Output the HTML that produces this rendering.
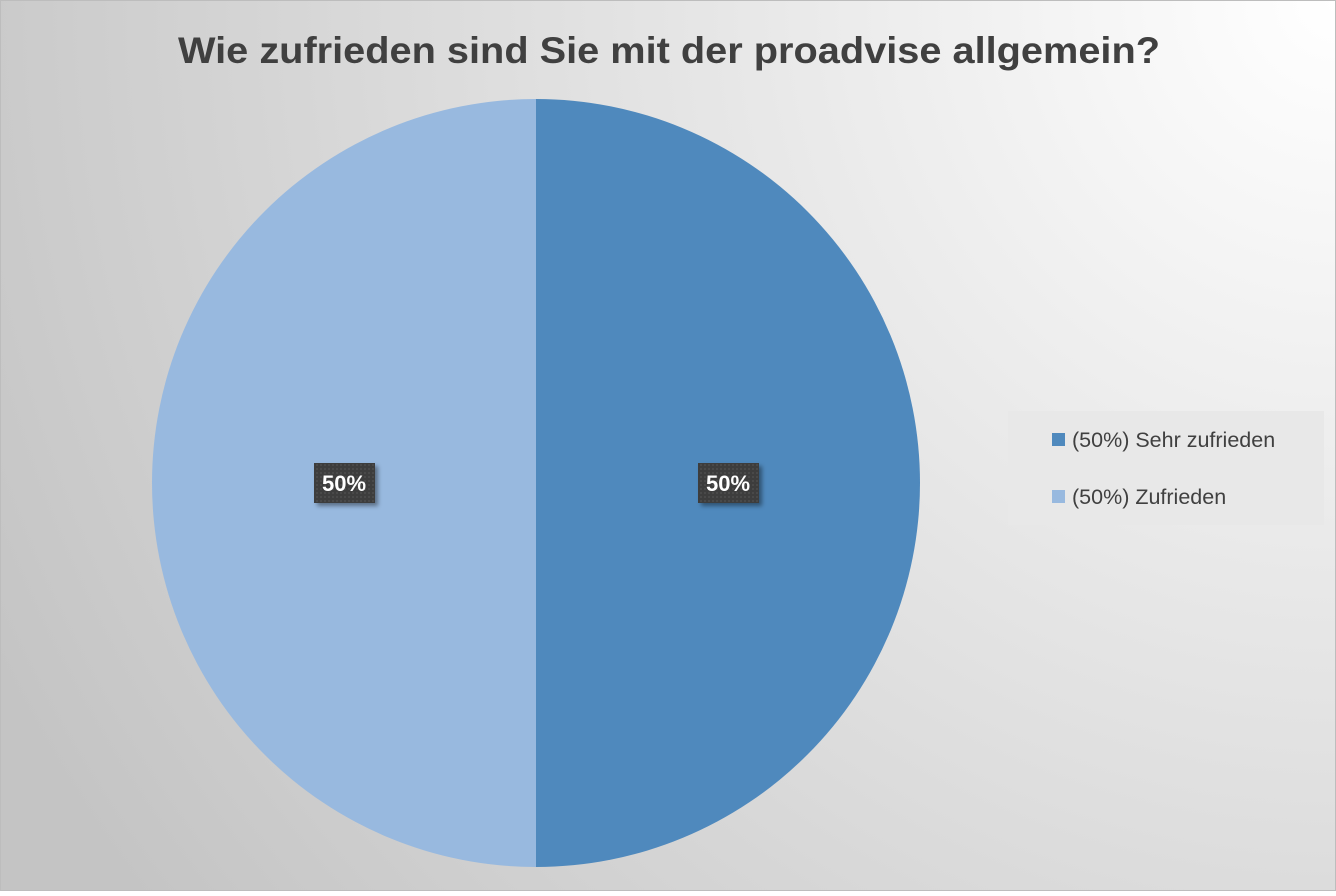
<!DOCTYPE html>
<html><head><meta charset="utf-8"><style>
html,body{margin:0;padding:0;}
body{width:1336px;height:891px;overflow:hidden;font-family:"Liberation Sans",sans-serif;}
</style></head><body>
<svg id="chart" width="1336" height="891" xmlns="http://www.w3.org/2000/svg">
<defs>
<radialGradient id="bg" cx="1336" cy="0" r="1500" gradientUnits="userSpaceOnUse">
<stop offset="0" stop-color="#ffffff"/><stop offset="1" stop-color="#c4c4c4"/>
</radialGradient>
<filter id="sh" x="-30%" y="-30%" width="160%" height="160%"><feDropShadow dx="3" dy="3" stdDeviation="2" flood-color="#000" flood-opacity="0.4"/></filter>
<pattern id="dots" width="4" height="4" patternUnits="userSpaceOnUse"><rect width="4" height="4" fill="#3d3d3d"/><rect width="2" height="2" fill="#4a4a4a"/></pattern>
</defs>
<rect x="0.5" y="0.5" width="1335" height="890" fill="url(#bg)" stroke="#bdbdbd"/>
<text x="669" y="63" text-anchor="middle" font-size="37" font-weight="bold" fill="#404040" textLength="982" lengthAdjust="spacingAndGlyphs">Wie zufrieden sind Sie mit der proadvise allgemein?</text>
<g id="slices"></g>
<g id="labels"></g>
<rect x="1008" y="411" width="316" height="114" fill="#e8e8e8"/>
<g id="legend"></g>
</svg>
<script>
const categories = ["Sehr zufrieden", "Zufrieden"];
const values = [50, 50];
const colors = ["#4f89bd", "#98b9df"];
const cx = 536, cy = 483, r = 384;
const NS = "http://www.w3.org/2000/svg";
const total = values.reduce((a,b)=>a+b,0);
let a0 = -Math.PI/2;
const sl = document.getElementById('slices'), lb = document.getElementById('labels'), lg = document.getElementById('legend');
values.forEach((v,i)=>{
  const a1 = a0 + v/total*2*Math.PI;
  const x0=cx+r*Math.cos(a0), y0=cy+r*Math.sin(a0), x1=cx+r*Math.cos(a1), y1=cy+r*Math.sin(a1);
  const large = (a1-a0)>Math.PI?1:0;
  const p = document.createElementNS(NS,'path');
  p.setAttribute('d',`M${cx},${cy} L${x0},${y0} A${r},${r} 0 ${large} 1 ${x1},${y1} Z`);
  p.setAttribute('fill',colors[i]);
  
  
  sl.appendChild(p);
  const am=(a0+a1)/2, lx=cx+0.5*r*Math.cos(am), ly=cy+0.5*r*Math.sin(am);
  const pct = Math.round(v/total*100)+'%';
  const g = document.createElementNS(NS,'g');
  
  
  const b = document.createElementNS(NS,'rect');
  b.setAttribute('x',lx-30);b.setAttribute('y',ly-20);b.setAttribute('width',61);b.setAttribute('height',40);
  b.setAttribute('fill','url(#dots)');b.setAttribute('filter','url(#sh)');
  g.appendChild(b);
  const t = document.createElementNS(NS,'text');
  t.setAttribute('x',lx);t.setAttribute('y',ly+8);t.setAttribute('text-anchor','middle');
  t.setAttribute('font-size','22');t.setAttribute('font-weight','bold');t.setAttribute('fill','#fff');
  t.textContent=pct;g.appendChild(t);lb.appendChild(g);
  const e = document.createElementNS(NS,'g');
  
  
  const sw = document.createElementNS(NS,'rect');
  sw.setAttribute('x',1052);sw.setAttribute('y',433+i*57);sw.setAttribute('width',13);sw.setAttribute('height',13);sw.setAttribute('fill',colors[i]);
  e.appendChild(sw);
  const et = document.createElementNS(NS,'text');
  et.setAttribute('x',1072);et.setAttribute('y',447+i*57);et.setAttribute('font-size','21.5');et.setAttribute('fill','#404040');
  et.textContent=`(${pct}) ${categories[i]}`;e.appendChild(et);lg.appendChild(e);
  a0=a1;
});
</script>
</body></html>
